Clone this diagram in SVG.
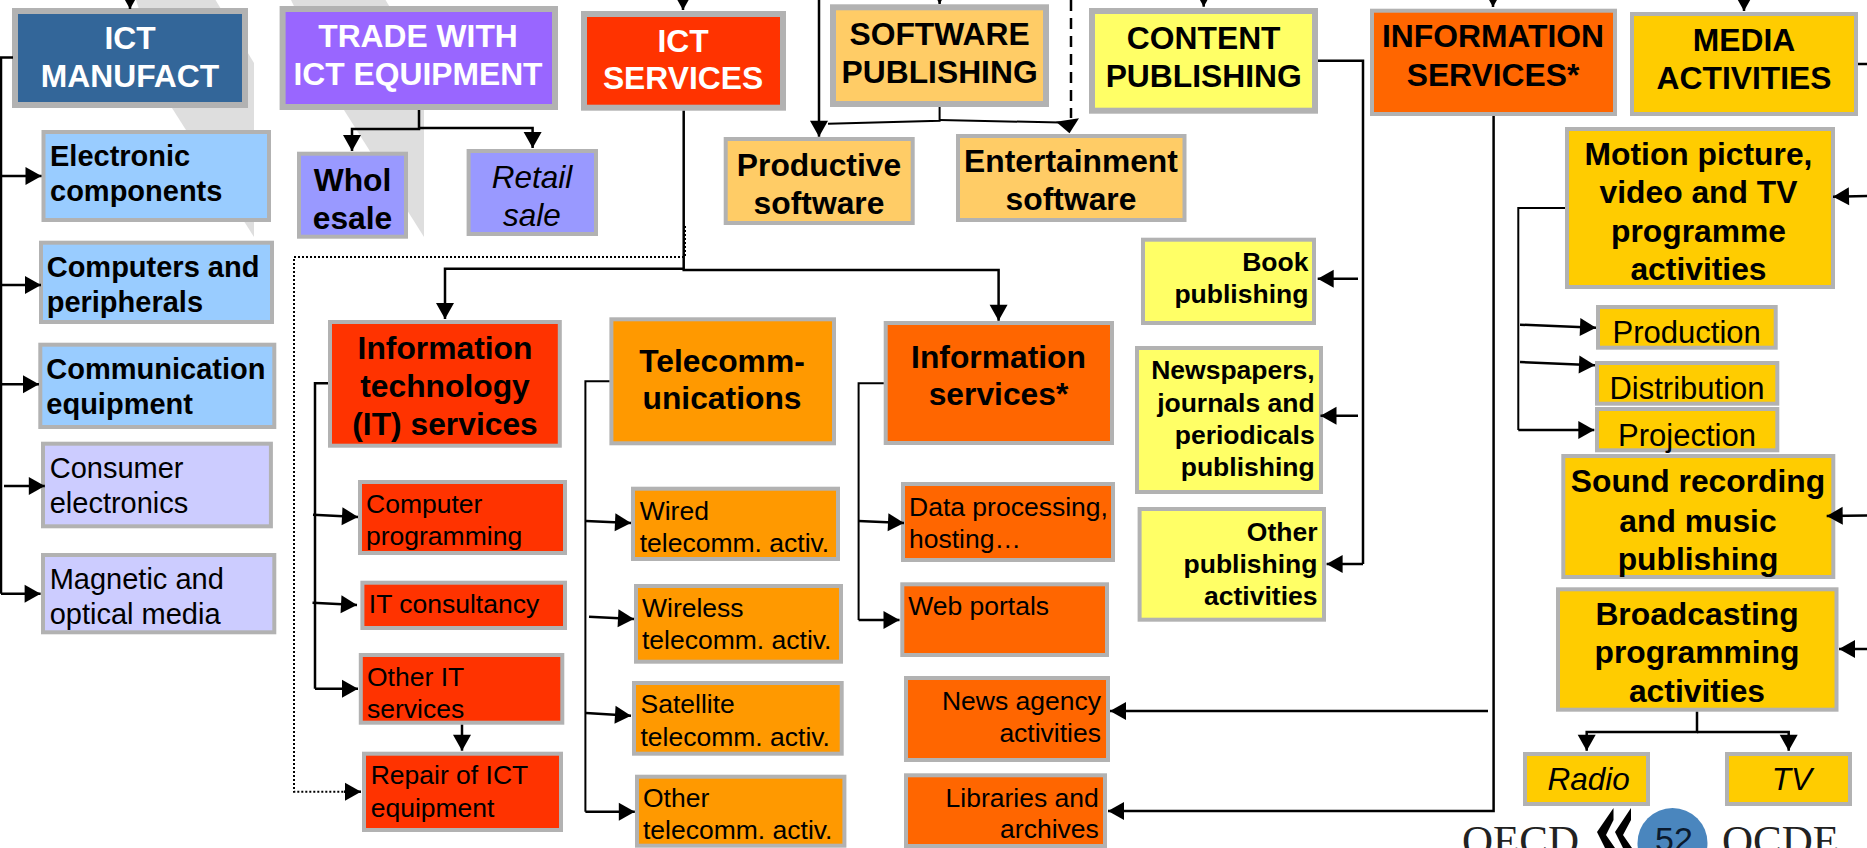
<svg xmlns="http://www.w3.org/2000/svg" width="1867" height="848" viewBox="0 0 1867 848">
<defs>
<style>
text{font-family:"Liberation Sans",Arial,sans-serif;fill:#000}
.w{fill:#fff}
.h{font-size:31.8px;font-weight:bold}
.m{font-size:29px;font-weight:bold}
.p{font-size:26.5px;font-weight:bold}
.c{font-size:29px}
.r{font-size:26.5px}
.s{font-size:31px}
.i{font-size:31.5px;font-style:italic}
.mid{text-anchor:middle}
.end{text-anchor:end}
.b6{stroke:#b2b2b2;stroke-width:6}
.b4{stroke:#b2b2b2;stroke-width:4}
.l{fill:none;stroke:#000;stroke-width:2.5}
.a{marker-end:url(#arrow)}
.t{stroke-width:2}
.dot{stroke-width:2;stroke-dasharray:2 2}
.dash{stroke-width:2.5;stroke-dasharray:11 7}
</style>
<marker id="arrow" markerUnits="userSpaceOnUse" markerWidth="16" markerHeight="18" refX="16" refY="9" orient="auto" overflow="visible"><path d="M0,0L16,9L0,18z" fill="#000"/></marker>
</defs>
<rect width="1867" height="848" fill="#fff"/>
<g id="backdrop">
<polygon points="136,0 215.5,0 254,63 254,237 172,108" fill="#dedede"/>
<polygon points="291,0 385.5,0 424,63 424,237 344,110" fill="#dedede"/>
</g>
<g id="ict-manufact"><rect class="b6" x="15" y="11" width="230" height="94" fill="#336699"/><text class="h w mid" x="130" y="49">ICT</text><text class="h w mid" x="130" y="87">MANUFACT</text></g>
<g id="trade"><rect class="b6" x="282.6" y="9" width="272.4" height="98" fill="#9966ff"/><text class="h w mid" x="418" y="46.7">TRADE WITH</text><text class="h w mid" x="418" y="85">ICT EQUIPMENT</text></g>
<g id="ict-services"><rect class="b6" x="584" y="14" width="199" height="93.7" fill="#ff3300"/><text class="h w mid" x="683" y="51.7">ICT</text><text class="h w mid" x="683" y="89">SERVICES</text></g>
<g id="software-publishing"><rect class="b6" x="833" y="7.3" width="213" height="96.7" fill="#ffcc66"/><text class="h mid" x="939.6" y="44.7">SOFTWARE</text><text class="h mid" x="939.6" y="83.3">PUBLISHING</text></g>
<g id="content-publishing"><rect class="b6" x="1092" y="11" width="223" height="99.7" fill="#ffff66"/><text class="h mid" x="1203.7" y="48.7">CONTENT</text><text class="h mid" x="1203.7" y="86.7">PUBLISHING</text></g>
<g id="information-services-top"><rect class="b4" x="1372" y="10.7" width="243" height="103.3" fill="#ff6600"/><text class="h mid" x="1493" y="46.7">INFORMATION</text><text class="h mid" x="1493" y="85.7">SERVICES*</text></g>
<g id="media-activities"><rect class="b4" x="1632" y="14" width="224" height="100" fill="#ffcc00"/><text class="h mid" x="1744" y="50.7">MEDIA</text><text class="h mid" x="1744" y="88.7">ACTIVITIES</text></g>

<g id="electronic-components"><rect class="b4" x="43.5" y="132" width="225.5" height="88" fill="#99ccff"/><text class="m" x="50" y="165.7">Electronic</text><text class="m" x="50" y="200.7">components</text></g>
<g id="computers"><rect class="b4" x="41" y="242.7" width="231" height="79.3" fill="#99ccff"/><text class="m" x="46.7" y="276.7">Computers and</text><text class="m" x="46.7" y="311.5">peripherals</text></g>
<g id="communication"><rect class="b4" x="40.3" y="344.7" width="234" height="82.3" fill="#99ccff"/><text class="m" x="46.3" y="378.7">Communication</text><text class="m" x="46.3" y="413.7">equipment</text></g>
<g id="consumer"><rect class="b4" x="43" y="443.7" width="227.9" height="82.6" fill="#ccccff"/><text class="c" x="49.7" y="478.3">Consumer</text><text class="c" x="49.7" y="512.7">electronics</text></g>
<g id="magnetic"><rect class="b4" x="43" y="555" width="231.3" height="77.3" fill="#ccccff"/><text class="c" x="49.7" y="589">Magnetic and</text><text class="c" x="49.7" y="624">optical media</text></g>

<g id="wholesale"><rect class="b4" x="299" y="153.7" width="107" height="83" fill="#9999ff"/><text class="h mid" x="352.5" y="190.7">Whol</text><text class="h mid" x="352.5" y="229">esale</text></g>
<g id="retail"><rect class="b4" x="468.6" y="151" width="127.4" height="83" fill="#9999ff"/><text class="i mid" x="532" y="187.7">Retail</text><text class="i mid" x="532" y="226">sale</text></g>
<g id="productive"><rect class="b4" x="725.7" y="139" width="187" height="84" fill="#ffcc66"/><text class="h mid" x="819" y="175.7">Productive</text><text class="h mid" x="819" y="214.3">software</text></g>
<g id="entertainment"><rect class="b4" x="958" y="136" width="226.5" height="84" fill="#ffcc66"/><text class="h mid" x="1071" y="172.3">Entertainment</text><text class="h mid" x="1071" y="210.3">software</text></g>

<g id="book"><rect class="b4" x="1143" y="239.7" width="171" height="83.3" fill="#ffff66"/><text class="p end" x="1308.4" y="270.7">Book</text><text class="p end" x="1308.4" y="302.7">publishing</text></g>
<g id="newspapers"><rect class="b4" x="1137" y="348" width="184" height="144" fill="#ffff66"/><text class="p end" x="1314.7" y="379.3">Newspapers,</text><text class="p end" x="1314.7" y="411.7">journals and</text><text class="p end" x="1314.7" y="444">periodicals</text><text class="p end" x="1314.7" y="475.7">publishing</text></g>
<g id="other-publishing"><rect class="b4" x="1139.6" y="509" width="184.4" height="110.7" fill="#ffff66"/><text class="p end" x="1317.5" y="541">Other</text><text class="p end" x="1317.5" y="573.3">publishing</text><text class="p end" x="1317.5" y="605">activities</text></g>

<g id="it-services"><rect class="b4" x="330" y="322" width="229.8" height="123.7" fill="#ff3300"/><text class="h mid" x="445" y="358.7">Information</text><text class="h mid" x="445" y="396.7">technology</text><text class="h mid" x="445" y="435">(IT) services</text></g>
<g id="telecommunications"><rect class="b4" x="611.4" y="319.3" width="222.6" height="124" fill="#ff9900"/><text class="h mid" x="722" y="371.7">Telecomm-</text><text class="h mid" x="722" y="409.3">unications</text></g>
<g id="information-services"><rect class="b4" x="885.7" y="323" width="226.3" height="120" fill="#ff6600"/><text class="h mid" x="998.5" y="367.7">Information</text><text class="h mid" x="998.5" y="405.3">services*</text></g>

<g id="computer-programming"><rect class="b4" x="360" y="482" width="205" height="71" fill="#ff3300"/><text class="r" x="366" y="513.3">Computer</text><text class="r" x="366" y="545">programming</text></g>
<g id="it-consultancy"><rect class="b4" x="362.4" y="582.7" width="202.6" height="45.3" fill="#ff3300"/><text class="r" x="368.8" y="613.3">IT consultancy</text></g>
<g id="other-it"><rect class="b4" x="360.8" y="655" width="201.5" height="67.7" fill="#ff3300"/><text class="r" x="367" y="685.7">Other IT</text><text class="r" x="367" y="718.3">services</text></g>
<g id="repair"><rect class="b4" x="364" y="753.7" width="197" height="76.3" fill="#ff3300"/><text class="r" x="370.7" y="784.3">Repair of ICT</text><text class="r" x="370.7" y="816.7">equipment</text></g>

<g id="wired"><rect class="b4" x="633" y="488.7" width="205" height="70.3" fill="#ff9900"/><text class="r" x="639.7" y="520">Wired</text><text class="r" x="639.7" y="551.7">telecomm. activ.</text></g>
<g id="wireless"><rect class="b4" x="636" y="586" width="205" height="75.7" fill="#ff9900"/><text class="r" x="642" y="617.3">Wireless</text><text class="r" x="642" y="649.3">telecomm. activ.</text></g>
<g id="satellite"><rect class="b4" x="634" y="683" width="207.7" height="70.7" fill="#ff9900"/><text class="r" x="640.5" y="713.3">Satellite</text><text class="r" x="640.5" y="746">telecomm. activ.</text></g>
<g id="other-telecomm"><rect class="b4" x="637" y="776.7" width="207.4" height="69" fill="#ff9900"/><text class="r" x="643" y="807.3">Other</text><text class="r" x="643" y="839.3">telecomm. activ.</text></g>

<g id="data-processing"><rect class="b4" x="903" y="484" width="210" height="76" fill="#ff6600"/><text class="r" x="909" y="515.7">Data processing,</text><text class="r" x="909" y="547.7">hosting…</text></g>
<g id="web-portals"><rect class="b4" x="902.3" y="584.3" width="204.7" height="70.7" fill="#ff6600"/><text class="r" x="908.2" y="615">Web portals</text></g>
<g id="news-agency"><rect class="b4" x="906" y="678" width="202" height="82" fill="#ff6600"/><text class="r end" x="1101" y="710">News agency</text><text class="r end" x="1101" y="741.7">activities</text></g>
<g id="libraries"><rect class="b4" x="906" y="775.3" width="199" height="70.7" fill="#ff6600"/><text class="r end" x="1098.8" y="806.7">Libraries and</text><text class="r end" x="1098.8" y="838.3">archives</text></g>

<g id="motion-picture"><rect class="b4" x="1567" y="129" width="266" height="158" fill="#ffcc00"/><text class="h mid" x="1698.5" y="165">Motion picture,</text><text class="h mid" x="1698.5" y="203.3">video and TV</text><text class="h mid" x="1698.5" y="241.7">programme</text><text class="h mid" x="1698.5" y="280">activities</text></g>
<g id="production"><rect class="b4" x="1598" y="307" width="177.7" height="40.7" fill="#ffcc00"/><text class="s mid" x="1686.7" y="343.3">Production</text></g>
<g id="distribution"><rect class="b4" x="1597" y="363" width="180.3" height="40.7" fill="#ffcc00"/><text class="s mid" x="1687" y="399.3">Distribution</text></g>
<g id="projection"><rect class="b4" x="1597" y="409" width="180.3" height="41.3" fill="#ffcc00"/><text class="s mid" x="1687" y="445.7">Projection</text></g>
<g id="sound-recording"><rect class="b4" x="1563.3" y="456" width="270" height="121" fill="#ffcc00"/><text class="h mid" x="1698" y="492.3">Sound recording</text><text class="h mid" x="1698" y="531.7">and music</text><text class="h mid" x="1698" y="570">publishing</text></g>
<g id="broadcasting"><rect class="b4" x="1558" y="589.3" width="278.5" height="120.4" fill="#ffcc00"/><text class="h mid" x="1697" y="625">Broadcasting</text><text class="h mid" x="1697" y="663.3">programming</text><text class="h mid" x="1697" y="701.7">activities</text></g>
<g id="radio"><rect class="b4" x="1525" y="754" width="123" height="50" fill="#ffcc00"/><text class="i mid" x="1588.7" y="790">Radio</text></g>
<g id="tv"><rect class="b4" x="1727" y="754" width="123" height="50" fill="#ffcc00"/><text class="i mid" x="1792" y="790">TV</text></g>

<g id="connectors">
<path class="l a" d="M130,-10V9"/>
<path class="l a" d="M683,-10V10"/>
<path class="l a" d="M939.6,-10V4"/>
<path class="l a" d="M1203.7,-10V6.7"/>
<path class="l a" d="M1493,-10V7"/>
<path class="l a" d="M1744,-10V11"/>
<path class="l" d="M13,57.5H1V593.7"/>
<path class="l a" d="M1,176H41.5"/>
<path class="l a" d="M1,285H41"/>
<path class="l a" d="M1,384.3H39"/>
<path class="l a" d="M4,486H44.8"/>
<path class="l a" d="M1,593.7H40.6"/>
<path class="l a" d="M419,110V129H352V151"/>
<path class="l a" d="M419,128H532.6V148"/>
<path class="l a" d="M819,0V136.7"/>
<path class="l t" d="M939.6,107V120.7L828,123.7"/>
<path class="l t" d="M939.6,120L1060,122.5"/>
<path class="l dash" d="M1071,0V118"/>
<polygon points="1056,121.7 1079,118.3 1069.5,133.3" fill="#000"/>
<path class="l a" d="M683.7,110.7V270H998.6V320.7"/>
<path class="l a" d="M683.7,268.7H445V319"/>
<path class="l dot" d="M685,226V257H294V791.7H346"/>
<path class="l a" d="M344,791.7H361"/>
<path class="l" d="M328,383.3H315V688.7"/>
<path class="l a" d="M315,688.7H358"/>
<path class="l a" d="M313,514.7L358,517"/>
<path class="l a" d="M312.5,602.7L357,605"/>
<path class="l a" d="M462,724.7V750.7"/>
<path class="l t" d="M609.4,381.3H585.4V811.7"/>
<path class="l a" d="M585.4,811.7H634.8"/>
<path class="l a" d="M586,521L631,523"/>
<path class="l a" d="M589,616.7L634,619"/>
<path class="l a" d="M586,713L631,715.7"/>
<path class="l t" d="M883.7,383.3H858.6V620"/>
<path class="l a" d="M858.6,620H899.5"/>
<path class="l a" d="M858.6,521L904,523"/>
<path class="l" d="M1318,60.7H1363V564"/>
<path class="l a" d="M1363,564H1326.6"/>
<path class="l a" d="M1358,278.7H1317.7"/>
<path class="l a" d="M1358,415.7H1320.5"/>
<path class="l a" d="M1493.6,116V811H1108"/>
<path class="l a" d="M1488,711H1110"/>
<path class="l" d="M1858,64H1867"/>
<path class="l a" d="M1867,196L1833,196.7"/>
<path class="l a" d="M1867,515.5L1826.7,516"/>
<path class="l a" d="M1867,649H1839"/>
<path class="l t" d="M1565,208H1518.3V430"/>
<path class="l a" d="M1518.3,430H1594.3"/>
<path class="l a" d="M1520,324.7L1596,327.7"/>
<path class="l a" d="M1520,362L1595,365.3"/>
<path class="l a" d="M1697,711.7V732H1586.7V750.7"/>
<path class="l a" d="M1697,732H1788.7V750.7"/>
</g>

<g id="oecd-logo">
<text x="1462" y="855" style="font-family:'Liberation Serif','Times New Roman',serif;font-size:43px;fill:#222">OECD</text>
<path d="M1613.5,808L1597,832L1605,848H1615L1606,835L1613.5,820Z" fill="#000"/>
<path d="M1631,808L1615,832L1623,848H1632L1623,835L1631,820Z" fill="#000"/>
<circle cx="1672.5" cy="843" r="35" fill="#4a86be"/>
<text class="mid" x="1674" y="851" style="font-size:34px;fill:#0a1a2e">52</text>
<text x="1722" y="855" style="font-family:'Liberation Serif','Times New Roman',serif;font-size:43px;fill:#222">OCDE</text>
</g>
</svg>
